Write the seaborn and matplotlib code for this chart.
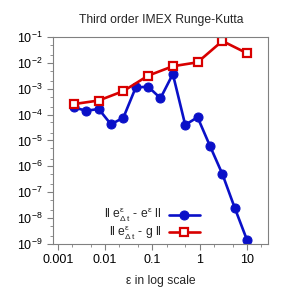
import matplotlib
matplotlib.use("Agg")
import matplotlib.pyplot as plt
from matplotlib.ticker import FixedLocator, LogLocator, NullFormatter
import seaborn as sns
import pandas as pd

# epsilon values (log scale)
eps_blue = [0.00219, 0.0040, 0.0073, 0.0133, 0.0243, 0.0444, 0.081, 0.148,
            0.27, 0.493, 0.9, 1.64, 3.0, 5.48, 10.0]
err_blue = [1.9e-4, 1.4e-4, 1.65e-4, 4.2e-5, 7.6e-5, 1.12e-3, 1.2e-3, 4.3e-4,
            3.7e-3, 4.0e-5, 7.9e-5, 6.2e-6, 5.1e-7, 2.5e-8, 1.4e-9]
eps_red = [0.00219, 0.0073, 0.0243, 0.081, 0.27, 0.9, 3.0, 10.0]
err_red = [2.55e-4, 3.5e-4, 8.1e-4, 3.2e-3, 7.4e-3, 1.05e-2, 7.0e-2, 2.35e-2]

xticks = [0.001, 0.01, 0.1, 1, 10]
xticklabels = ["0.001", "0.01", "0.1", "1", "10"]

df_blue = pd.DataFrame({"eps": eps_blue, "err": err_blue})
df_red = pd.DataFrame({"eps": eps_red, "err": err_red})

sns.set_style("white")
plt.rcParams["font.family"] = ["Liberation Sans", "DejaVu Sans"]
plt.rcParams["mathtext.default"] = "regular"

fig = plt.figure(figsize=(2.89, 2.89), dpi=100)
ax = fig.add_axes([0.1845, 0.156, 0.744, 0.716])

blue = "#0a10c8"
red = "#d80000"
sns.lineplot(data=df_blue, x="eps", y="err", ax=ax, color=blue, lw=1.9,
             marker="o", markersize=6.5, markeredgecolor=blue,
             label=r"ll e$^{ε}_{Δ\,t}$ - e$^{ε}$ ll")
sns.lineplot(data=df_red, x="eps", y="err", ax=ax, color=red, lw=1.9,
             marker="s", markersize=5.2, markerfacecolor="white",
             markeredgecolor=red, markeredgewidth=1.6,
             label=r"ll e$^{ε}_{Δ\,t}$ - g ll")

ax.set_xscale("log")
ax.set_yscale("log")
ax.set_xlim(10 ** -3.095, 10 ** 1.45)
ax.set_ylim(1e-9, 1e-1)
ax.xaxis.set_major_locator(FixedLocator(xticks))
ax.set_xticklabels(xticklabels)
ax.xaxis.set_minor_locator(LogLocator(base=10, subs=(2, 5)))
ax.xaxis.set_minor_formatter(NullFormatter())
ax.yaxis.set_major_locator(LogLocator(base=10, numticks=20))
ax.yaxis.set_minor_locator(LogLocator(base=10, subs=(2, 5), numticks=20))
ax.yaxis.set_minor_formatter(NullFormatter())

for s in ax.spines.values():
    s.set_color("#808080")
    s.set_linewidth(0.8)
ax.tick_params(which="both", direction="out", color="#808080", labelsize=9,
               labelcolor="black", left=True, bottom=True)
ax.tick_params(which="major", length=4, width=0.8)
ax.tick_params(which="minor", length=2, width=0.6)

ax.set_title("Third order IMEX Runge-Kutta", fontsize=8.7, pad=10)
ax.set_xlabel("ε in log scale", fontsize=8.7, labelpad=6)
ax.set_ylabel("")

ax.legend(loc="center", bbox_to_anchor=(0.46, 0.095), frameon=False,
          markerfirst=False, fontsize=8.7, handlelength=2.6,
          labelspacing=0.0, handletextpad=0.6, borderpad=0)

fig.savefig("out.png", dpi=100)
